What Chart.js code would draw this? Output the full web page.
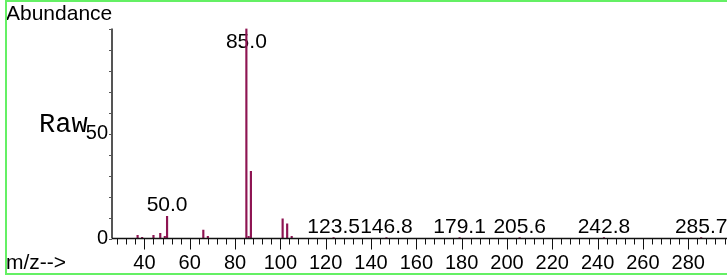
<!DOCTYPE html>
<html>
<head>
<meta charset="utf-8">
<script src="https://cdn.jsdelivr.net/npm/chart.js@4.4.1/dist/chart.umd.min.js"></script>
<style>
  html, body { margin: 0; padding: 0; background: #fff; }
  #wrap { width: 727px; height: 276px; }
</style>
</head>
<body>
<div id="wrap"><canvas id="chart" width="727" height="276"></canvas></div>
<script>
const ctx = document.getElementById("chart");

// peaks: m/z and abundance (% of base peak)
const mz =        [37,  39,  44,  47,  49, 50,   66, 68, 85,  86, 87, 101, 103, 105, 123.5, 146.8, 179.1, 205.6, 242.8, 285.7];
const abundance = [1.5, 0.5, 1.5, 2.5, 1,  10.5, 4,  1,  100, 1,  32, 9.4, 7,   1,   0.4,   0.4,   0.4,   0.4,   0.4,   0.4];

// peaks that get their m/z written above them
const labelled = [50.0, 85.0, 123.5, 146.8, 179.1, 205.6, 242.8, 285.7];

// tick labels
const xTicks = [40, 60, 80, 100, 120, 140, 160, 180, 200, 220, 240, 260, 280];
const yTicks = [0, 50];
const xMinorStep = 4;
const yMinorStep = 10;

const FONT = "'Liberation Sans', Arial, sans-serif";
const PEAK_COLOR = "#8e1452";

const msDecor = {
  id: "msDecor",
  beforeDatasetsDraw(chart) {
    const c = chart.ctx;
    const xs = chart.scales.x, ys = chart.scales.y, area = chart.chartArea;
    c.save();
    c.font = "21px " + FONT;
    c.fillStyle = "#000";
    c.textAlign = "center";
    c.textBaseline = "alphabetic";
    for (let k = 0; k < labelled.length; k++) {
      const i = mz.indexOf(labelled[k]);
      const px = xs.getPixelForValue(mz[i]);
      const top = ys.getPixelForValue(abundance[i]);
      const base = Math.max(top - 5, area.top + 19);
      c.fillText(mz[i].toFixed(1), px, base);
    }
    c.restore();
  },
  afterDraw(chart) {
    const c = chart.ctx;
    const xs = chart.scales.x, ys = chart.scales.y, area = chart.chartArea;
    c.save();

    // y axis line + ticks
    c.strokeStyle = "#555";
    c.lineWidth = 2;
    c.beginPath();
    c.moveTo(area.left, area.top);
    c.lineTo(area.left, area.bottom);
    c.stroke();
    c.lineWidth = 1;
    for (let v = 0; v <= ys.max; v += yMinorStep) {
      const py = Math.round(ys.getPixelForValue(v)) + 0.5;
      c.beginPath();
      c.moveTo(area.left - 3, py);
      c.lineTo(area.left, py);
      c.stroke();
    }

    // x axis line + ticks
    c.strokeStyle = "#111";
    c.lineWidth = 1.5;
    c.beginPath();
    c.moveTo(area.left, area.bottom);
    c.lineTo(chart.width, area.bottom);
    c.stroke();
    c.lineWidth = 1;
    for (let v = Math.ceil(xs.min / xMinorStep) * xMinorStep; v <= xs.max; v += xMinorStep) {
      const px = Math.round(xs.getPixelForValue(v)) + 0.5;
      const len = xTicks.includes(v) ? 11 : 6;
      c.beginPath();
      c.moveTo(px, area.bottom);
      c.lineTo(px, area.bottom + len);
      c.stroke();
    }

    // titles
    c.fillStyle = "#000";
    c.textBaseline = "alphabetic";
    c.textAlign = "left";
    c.font = "21px " + FONT;
    c.fillText("Abundance", 6, 20);
    c.fillText("m/z-->", 6, 269);
    c.font = "27px 'Courier New', 'Liberation Mono', monospace";
    c.fillText("Raw", 39, 132);

    // green frame
    c.strokeStyle = "#64f064";
    c.lineWidth = 2;
    c.beginPath();
    c.moveTo(chart.width + 2, 1);
    c.lineTo(6, 1);
    c.lineTo(6, 274);
    c.lineTo(chart.width + 2, 274);
    c.stroke();

    c.restore();
  }
};

function createChart() {
  Chart.defaults.font.family = FONT;
  Chart.defaults.font.size = 20;
  Chart.defaults.color = "#000";

  new Chart(ctx, {
    type: "bar",
    data: {
      datasets: [
        {
          data: mz.map((m, i) => ({ x: m, y: abundance[i] })),
          backgroundColor: PEAK_COLOR,
          borderWidth: 0,
          barThickness: 1.5,
        },
      ],
    },
    options: {
      responsive: false,
      animation: false,
      layout: { padding: { top: 28.5, left: 0, right: 0, bottom: 0 } },
      plugins: { legend: { display: false }, tooltip: { enabled: false } },
      scales: {
        x: {
          type: "linear",
          min: 25.7,
          max: 297.1,
          offset: false,
          grid: { display: false, drawTicks: false },
          border: { display: false },
          afterBuildTicks: (s) => { s.ticks = xTicks.map((v) => ({ value: v })); },
          afterFit: (s) => { s.height = 37.5; },
          ticks: { autoSkip: false, maxRotation: 0, padding: 13 },
        },
        y: {
          min: 0,
          max: 100,
          grid: { display: false, drawTicks: false },
          border: { display: false },
          afterBuildTicks: (s) => { s.ticks = yTicks.map((v) => ({ value: v })); },
          afterFit: (s) => { s.width = 112; },
          ticks: { padding: 4 },
        },
      },
    },
    plugins: [msDecor],
  });
}

createChart();
</script>
</body>
</html>
